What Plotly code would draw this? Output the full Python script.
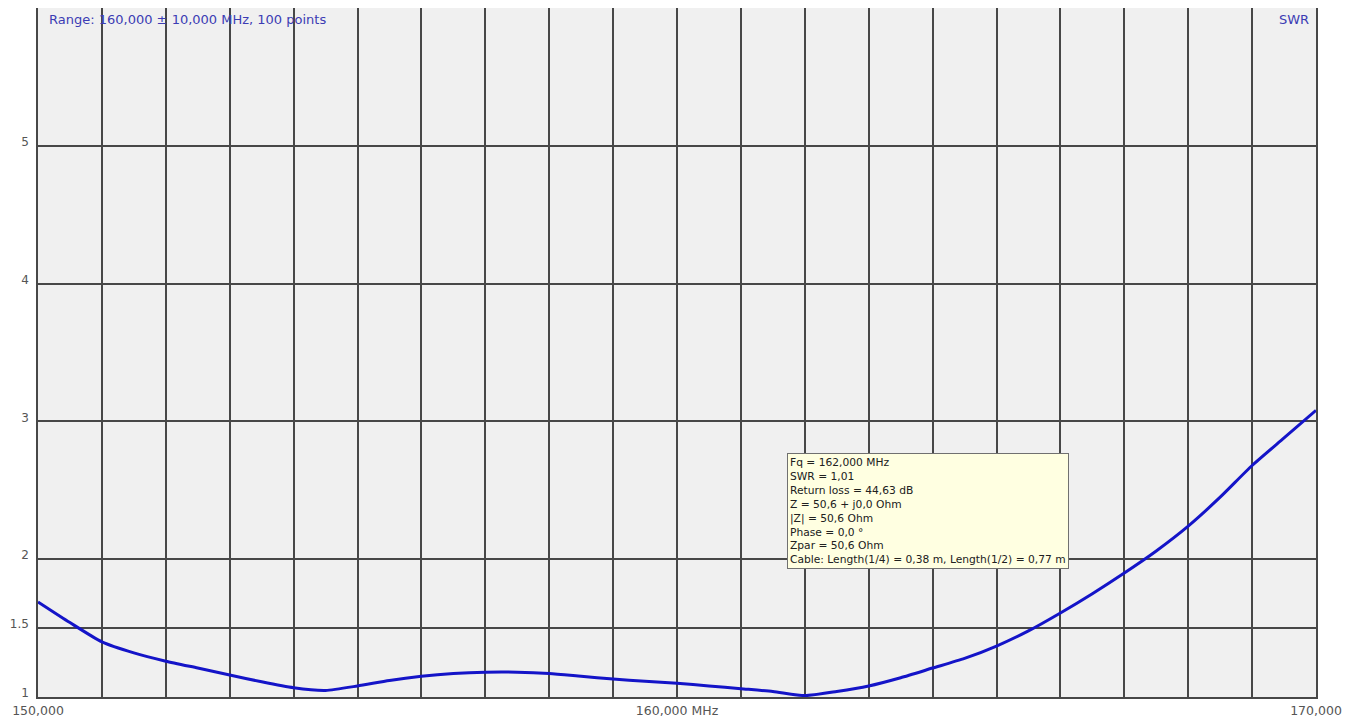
import plotly.graph_objects as go

freq_mhz = [150.0, 150.5, 151.0, 151.5, 152.0, 152.5, 153.0, 153.5, 154.0, 154.5,
            155.0, 155.5, 156.0, 156.5, 157.0, 157.5, 158.0, 158.5, 159.0, 159.5,
            160.0, 160.5, 161.0, 161.5, 162.0, 162.5, 163.0, 163.5, 164.0, 164.5,
            165.0, 165.5, 166.0, 166.5, 167.0, 167.5, 168.0, 168.5, 169.0, 169.5, 170.0]
swr = [1.69, 1.54, 1.40, 1.32, 1.26, 1.21, 1.16, 1.11, 1.067, 1.048,
       1.08, 1.12, 1.15, 1.17, 1.18, 1.18, 1.17, 1.15, 1.13, 1.115,
       1.10, 1.08, 1.06, 1.04, 1.01, 1.04, 1.08, 1.14, 1.21, 1.28,
       1.37, 1.48, 1.61, 1.75, 1.90, 2.06, 2.24, 2.45, 2.68, 2.88, 3.08]

x_grid = list(range(150, 171))
x_labels = {150: "150,000", 160: "160,000 MHz", 170: "170,000"}
y_ticks = [1, 1.5, 2, 3, 4, 5]
y_labels = ["1", "1.5", "2", "3", "4", "5"]

info_lines = [
    "Fq = 162,000 MHz",
    "SWR = 1,01",
    "Return loss = 44,63 dB",
    "Z = 50,6 + j0,0 Ohm",
    "|Z| = 50,6 Ohm",
    "Phase = 0,0 °",
    "Zpar = 50,6 Ohm",
    "Cable: Length(1/4) = 0,38 m, Length(1/2) = 0,77 m",
]

fig = go.Figure()
fig.add_trace(go.Scatter(
    x=freq_mhz, y=swr, mode="lines",
    line=dict(color="#1414c8", width=3, shape="spline", smoothing=0.6),
    hoverinfo="skip", showlegend=False,
))

GRID = "#474747"
FONT = "DejaVu Sans, Verdana, sans-serif"
# page body has an 8px default margin, so the figure is sized to fit the window
fig.update_layout(
    width=1342, height=709,
    margin=dict(l=30, r=34, t=0, b=20, autoexpand=False),
    paper_bgcolor="white",
    plot_bgcolor="#f0f0f0",
    font=dict(family=FONT, size=12.5, color="#555555"),
    xaxis=dict(
        range=[150, 170],
        tickvals=x_grid,
        ticktext=[x_labels.get(v, "") for v in x_grid],
        showgrid=True, gridcolor=GRID, gridwidth=1.5,
        zeroline=False, ticks="", ticklen=0,
        showline=True, linecolor=GRID, linewidth=1.5, mirror=True,
        tickfont=dict(size=12.5, color="#555555", family=FONT),
        automargin=False, ticklabelstandoff=1,
    ),
    yaxis=dict(
        range=[1, 6],
        tickvals=y_ticks,
        ticktext=y_labels,
        showgrid=True, gridcolor=GRID, gridwidth=1.5,
        zeroline=False, ticks="", ticklen=0,
        showline=True, linecolor=GRID, linewidth=1.5, mirror=True,
        tickfont=dict(size=12, color="#555555", family=FONT),
        automargin=False, ticklabelstandoff=5, ticklabelshift=-4,
    ),
)

fig.add_annotation(
    xref="paper", yref="paper", x=0.007, y=0.997,
    xanchor="left", yanchor="top",
    text="Range: 160,000 ± 10,000 MHz, 100 points",
    showarrow=False,
    font=dict(size=13, color="#3c3cb4", family=FONT),
)
fig.add_annotation(
    xref="paper", yref="paper", x=0.996, y=0.997,
    xanchor="right", yanchor="top",
    text="SWR", showarrow=False,
    font=dict(size=13, color="#3c3cb4", family=FONT),
)
fig.add_annotation(
    xref="paper", yref="paper", x=(787 - 38) / 1278, y=(697 - 453) / 689,
    xanchor="left", yanchor="top", align="left",
    text="<br>".join(info_lines), showarrow=False,
    bgcolor="#ffffe1", bordercolor="#707070", borderwidth=1, borderpad=2,
    font=dict(size=10.7, color="#202020", family=FONT),
)

fig.write_html("out.html")
